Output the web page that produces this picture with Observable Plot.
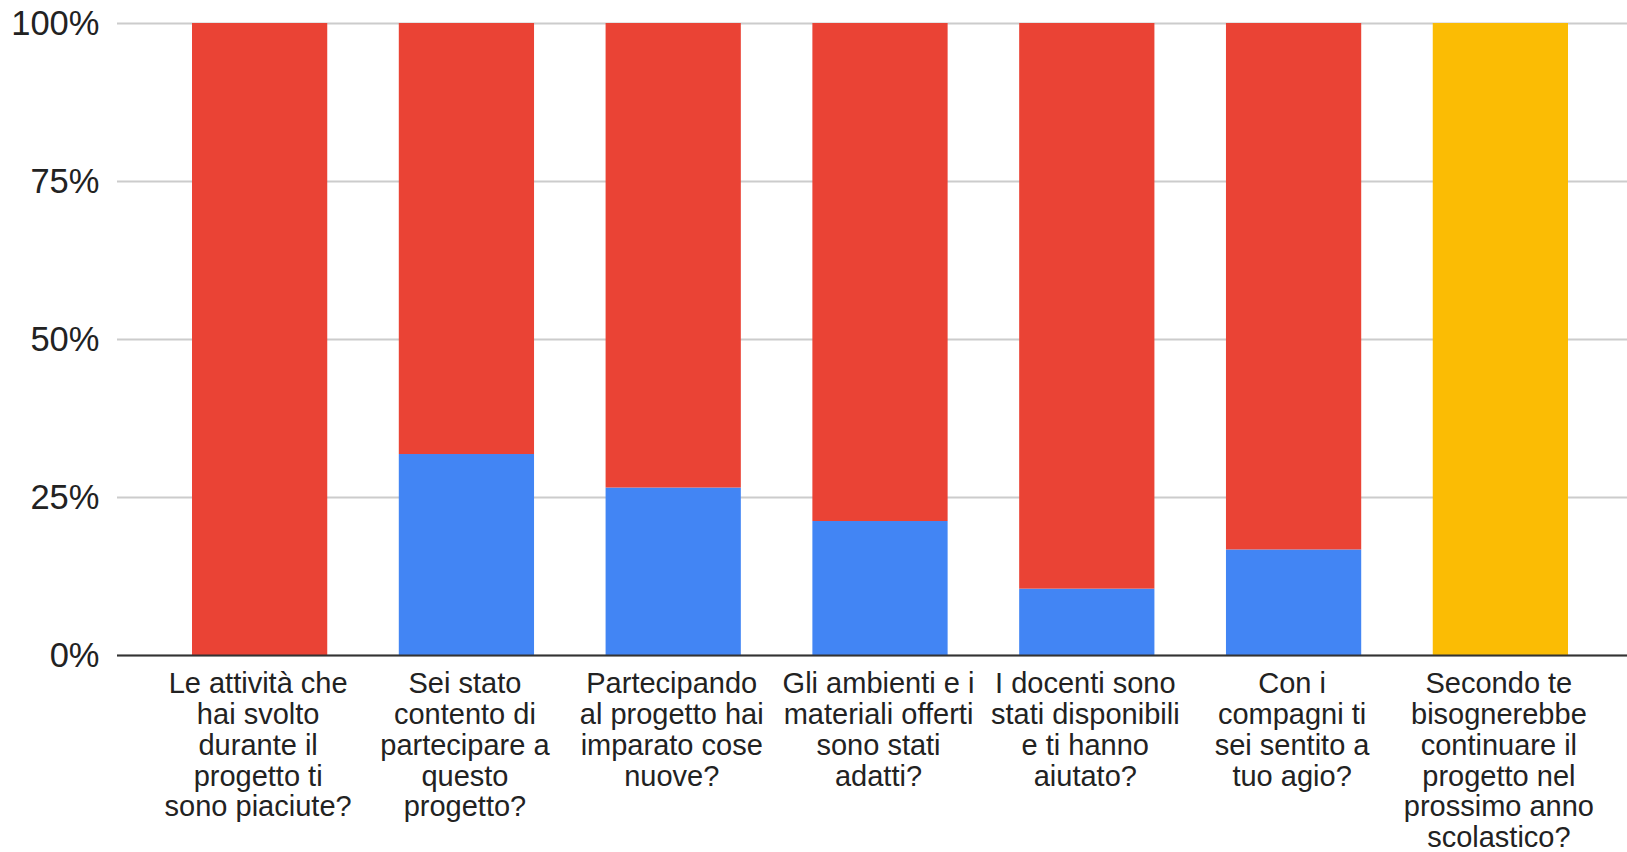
<!DOCTYPE html>
<html>
<head>
<meta charset="utf-8">
<script src="https://cdn.jsdelivr.net/npm/d3@7"></script>
<script src="https://cdn.jsdelivr.net/npm/@observablehq/plot@0.6"></script>
<style>
  html, body { margin: 0; padding: 0; background: #ffffff; }
  #chart svg { display: block; }
</style>
</head>
<body>
<div id="chart"></div>
<script>
// Categories (questions), with the line breaks seen in the reference
const categories = [
  "Le attività che\nhai svolto\ndurante il\nprogetto ti\nsono piaciute?",
  "Sei stato\ncontento di\npartecipare a\nquesto\nprogetto?",
  "Partecipando\nal progetto hai\nimparato cose\nnuove?",
  "Gli ambienti e i\nmateriali offerti\nsono stati\nadatti?",
  "I docenti sono\nstati disponibili\ne ti hanno\naiutato?",
  "Con i\ncompagni ti\nsei sentito a\ntuo agio?",
  "Secondo te\nbisognerebbe\ncontinuare il\nprogetto nel\nprossimo anno\nscolastico?"
];

// Series (stacked bottom to top), values in percent
const seriesNames = ["Serie 1", "Serie 2", "Serie 3"];
const series1Values = [0, 31.8, 26.5, 21.2, 10.5, 16.7, 0];
const series2Values = [100, 68.2, 73.5, 78.8, 89.5, 83.3, 0];
const series3Values = [0, 0, 0, 0, 0, 0, 100];
const seriesColors = ["#4285F4", "#EA4335", "#FBBC04"];

// Y axis ticks
const yTicks = [0, 25, 50, 75, 100];

const allSeries = [series1Values, series2Values, series3Values];
const data = [];
categories.forEach((c, i) => {
  allSeries.forEach((vals, s) => {
    data.push({category: c, series: seriesNames[s], value: vals[i]});
  });
});

const chart = Plot.plot({
  width: 1627,
  height: 852,
  marginTop: 23,
  marginBottom: 197,
  marginLeft: 117,
  marginRight: 0,
  style: {fontFamily: "'Liberation Sans', Arial, sans-serif", color: "#222222", background: "#ffffff"},
  x: {type: "band", domain: categories, paddingInner: 0.346, paddingOuter: 0, insetLeft: 75, insetRight: 59, round: false},
  y: {domain: [0, 100]},
  color: {domain: seriesNames, range: seriesColors},
  marks: [
    Plot.gridY(yTicks, {stroke: "#cccccc", strokeOpacity: 1, strokeWidth: 2}),
    Plot.barY(data, {x: "category", y: "value", fill: "series"}),
    Plot.ruleY([0], {stroke: "#333333", strokeWidth: 2}),
    Plot.axisY(yTicks, {
      tickSize: 0, tickPadding: 18, fontSize: 34.5, label: null,
      tickFormat: d => d + "%", fill: "#222222"
    }),
    Plot.axisX({
      tickSize: 0, tickPadding: 16, fontSize: 29, lineHeight: 1.06, label: null,
      fill: "#222222", dx: -2
    })
  ]
});

document.getElementById("chart").appendChild(chart);
</script>
</body>
</html>
